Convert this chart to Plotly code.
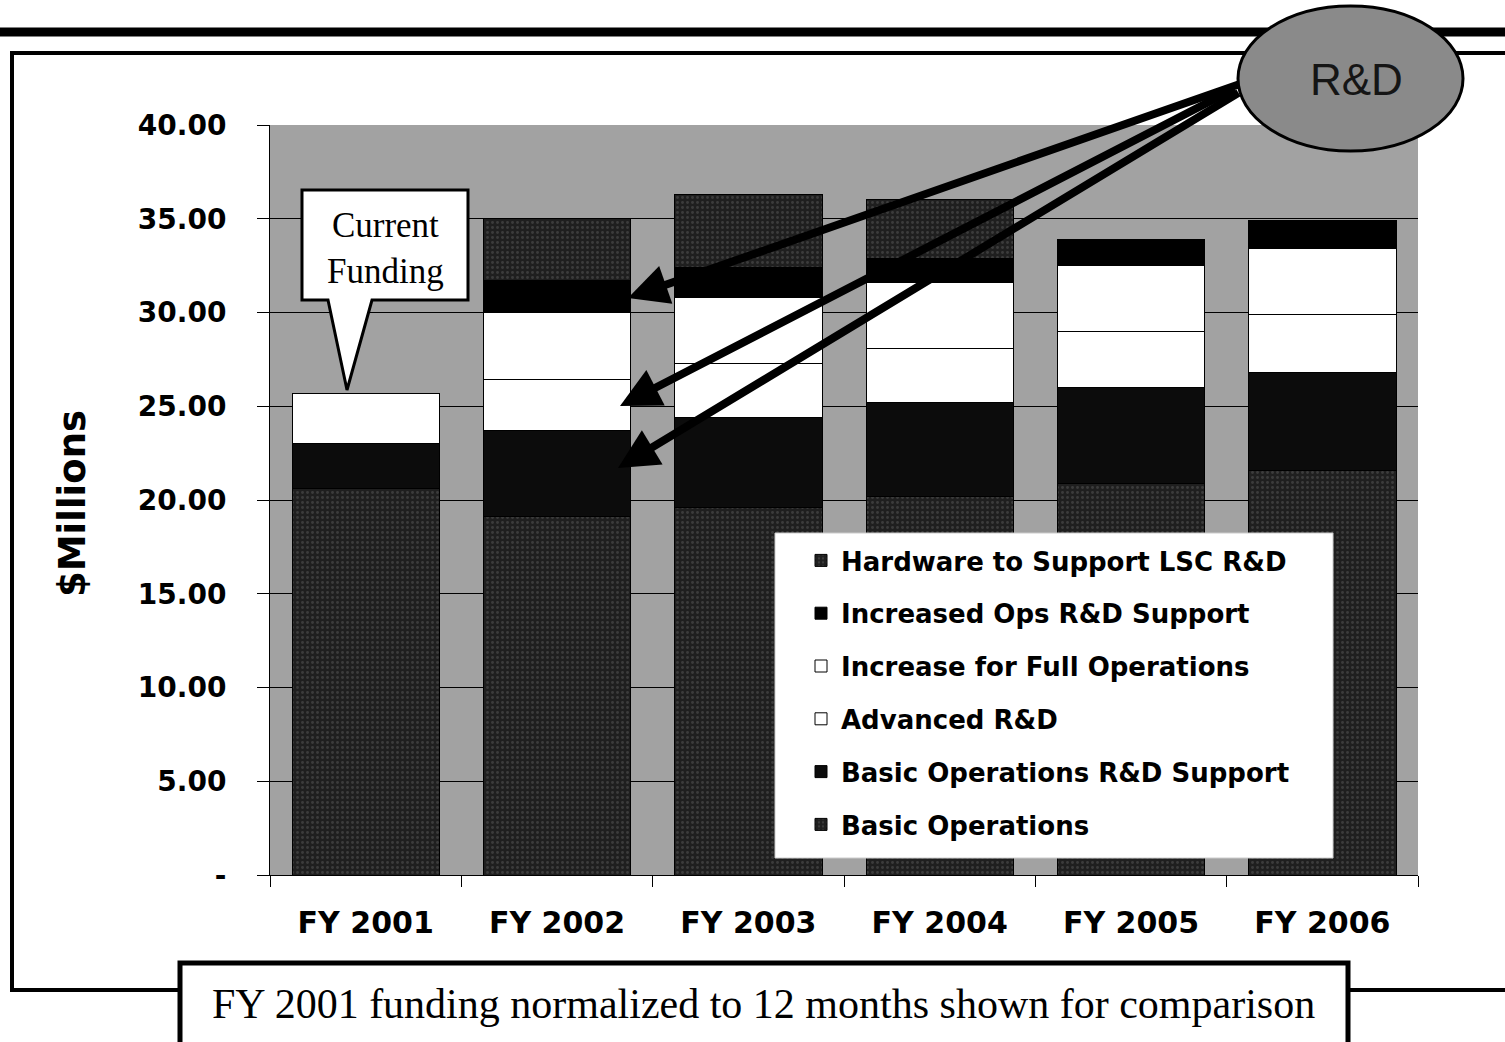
import plotly.graph_objects as go

# ---------------- data ----------------
years = ["FY 2001", "FY 2002", "FY 2003", "FY 2004", "FY 2005", "FY 2006"]

basic_operations = [20.6, 19.1, 19.6, 20.2, 20.9, 21.6]
basic_ops_rd_support = [2.4, 4.6, 4.8, 5.0, 5.1, 5.2]
advanced_rd = [2.7, 2.75, 2.9, 2.9, 3.0, 3.1]
increase_full_ops = [0.0, 3.55, 3.5, 3.5, 3.5, 3.5]
increased_ops_rd_support = [0.0, 1.7, 1.6, 1.3, 1.4, 1.5]
hardware_lsc_rd = [0.0, 3.3, 3.9, 3.15, 0.0, 0.0]

ytick_vals = [0, 5, 10, 15, 20, 25, 30, 35, 40]
ytick_text = ["-", "5.00", "10.00", "15.00", "20.00", "25.00", "30.00", "35.00", "40.00"]

# ---------------- geometry helpers (pixel -> paper) ----------------
W, H = 1505, 1042
PL, PR, PT, PB = 270, 1418, 125, 875  # plot area in pixels


def px(x):
    return (x - PL) / (PR - PL)


def py(y):
    return (PB - y) / (PB - PT)


DARK = dict(shape=".", bgcolor="#1f1f1f", fgcolor="#5a5a5a", size=5, solidity=0.25)

series = [
    ("Basic Operations", basic_operations, dict(color="#1f1f1f", pattern=DARK)),
    ("Basic Operations R&D Support", basic_ops_rd_support, dict(color="#0c0c0c")),
    ("Advanced R&D", advanced_rd, dict(color="white")),
    ("Increase for Full Operations", increase_full_ops, dict(color="white")),
    ("Increased Ops R&D Support", increased_ops_rd_support, dict(color="#000000")),
    ("Hardware to Support LSC R&D", hardware_lsc_rd, dict(color="#1f1f1f", pattern=DARK)),
]

fig = go.Figure()
n = len(series)
for i, (name, vals, mk) in enumerate(series):
    mk = dict(mk)
    mk["line"] = dict(color="black", width=1)
    fig.add_trace(go.Bar(name=name, x=years, y=vals, marker=mk,
                         legendgroup=f"g{i}", legendrank=n - i))

TICKFONT = dict(family="DejaVu Sans", size=28, color="black", weight="bold")

fig.update_layout(
    width=W,
    height=H,
    margin=dict(l=PL, r=W - PR, t=PT, b=H - PB, pad=0),
    paper_bgcolor="white",
    plot_bgcolor="#a2a2a2",
    barmode="stack",
    bargap=0.23,
    showlegend=True,
    legend=dict(
        x=px(801),
        y=py(537),
        xanchor="left",
        yanchor="top",
        bgcolor="rgba(0,0,0,0)",
        borderwidth=0,
        traceorder="grouped",
        tracegroupgap=16,
        font=dict(family="DejaVu Sans", size=26, color="black", weight="bold"),
    ),
    xaxis=dict(
        showgrid=False,
        showline=True,
        linecolor="black",
        linewidth=1,
        ticks="outside",
        tickson="boundaries",
        ticklen=11,
        tickcolor="black",
        tickfont=dict(family="DejaVu Sans", size=30, color="black", weight="bold"),
        ticklabelstandoff=21,
    ),
    yaxis=dict(
        range=[0, 40],
        tickvals=ytick_vals,
        ticktext=ytick_text,
        showgrid=True,
        gridcolor="black",
        gridwidth=1,
        showline=True,
        linecolor="black",
        linewidth=1,
        ticks="outside",
        ticklen=12,
        tickcolor="black",
        tickfont=TICKFONT,
        ticklabelstandoff=25,
        zeroline=False,
    ),
)

shapes = []
# thick top rule
shapes.append(dict(type="line", xref="paper", yref="paper", x0=px(-10), x1=px(W + 10),
                   y0=py(32), y1=py(32), line=dict(color="black", width=9)))
# outer frame
shapes.append(dict(type="rect", xref="paper", yref="paper", x0=px(12), x1=px(W + 20),
                   y0=py(53), y1=py(990), line=dict(color="black", width=4), fillcolor="rgba(0,0,0,0)"))
# legend box
shapes.append(dict(type="rect", xref="paper", yref="paper", x0=px(775), x1=px(1333),
                   y0=py(533), y1=py(858), line=dict(color="#cccccc", width=1), fillcolor="white"))
# callout "Current Funding"
pts = [(302, 190), (468, 190), (468, 300), (372, 300), (347, 390), (328, 300), (302, 300)]
path = "M " + " L ".join(f"{px(a):.5f},{py(b):.5f}" for a, b in pts) + " Z"
shapes.append(dict(type="path", xref="paper", yref="paper", path=path,
                   fillcolor="white", line=dict(color="black", width=3)))
# bottom note box
shapes.append(dict(type="rect", xref="paper", yref="paper", x0=px(180), x1=px(1348),
                   y0=py(963), y1=py(1060), line=dict(color="black", width=5), fillcolor="white"))
# R&D ellipse
shapes.append(dict(type="circle", xref="paper", yref="paper", x0=px(1238), x1=px(1463),
                   y0=py(6), y1=py(151), line=dict(color="black", width=3), fillcolor="#8a8a8a"))
fig.update_layout(shapes=shapes)

C = dict(xanchor="center", yanchor="middle", showarrow=False)
annotations = []
annotations.append(dict(xref="paper", yref="paper", x=px(385), y=py(248), text="Current<br>Funding",
                        font=dict(family="Liberation Serif", size=35, color="black"), **C))
annotations.append(dict(xref="paper", yref="paper", x=px(763), y=py(1004),
                        text="FY 2001 funding normalized to 12 months shown for comparison",
                        font=dict(family="Liberation Serif", size=42, color="black"), **C))
annotations.append(dict(xref="paper", yref="paper", x=px(1356), y=py(80), text="R&D",
                        font=dict(family="Liberation Sans", size=44, color="#151515"), **C))
annotations.append(dict(xref="paper", yref="paper", x=px(72), y=py(504), text="$Millions", textangle=-90,
                        font=dict(family="DejaVu Sans", size=37, color="black", weight="bold"), **C))
# arrows from the R&D bubble
arrows = [((628, 298), (1240, 84)), ((620, 406), (1236, 88)), ((618, 468), (1240, 92))]
for (tx, ty), (sx, sy) in arrows:
    annotations.append(dict(xref="paper", yref="paper", x=px(tx), y=py(ty), text="",
                            showarrow=True, arrowhead=2, arrowsize=1.0, arrowwidth=8,
                            arrowcolor="black", ax=sx - tx, ay=sy - ty))
fig.update_layout(annotations=annotations)

fig.write_html("out.html", config={"displayModeBar": False},
               post_script="document.body.style.margin='0';")
